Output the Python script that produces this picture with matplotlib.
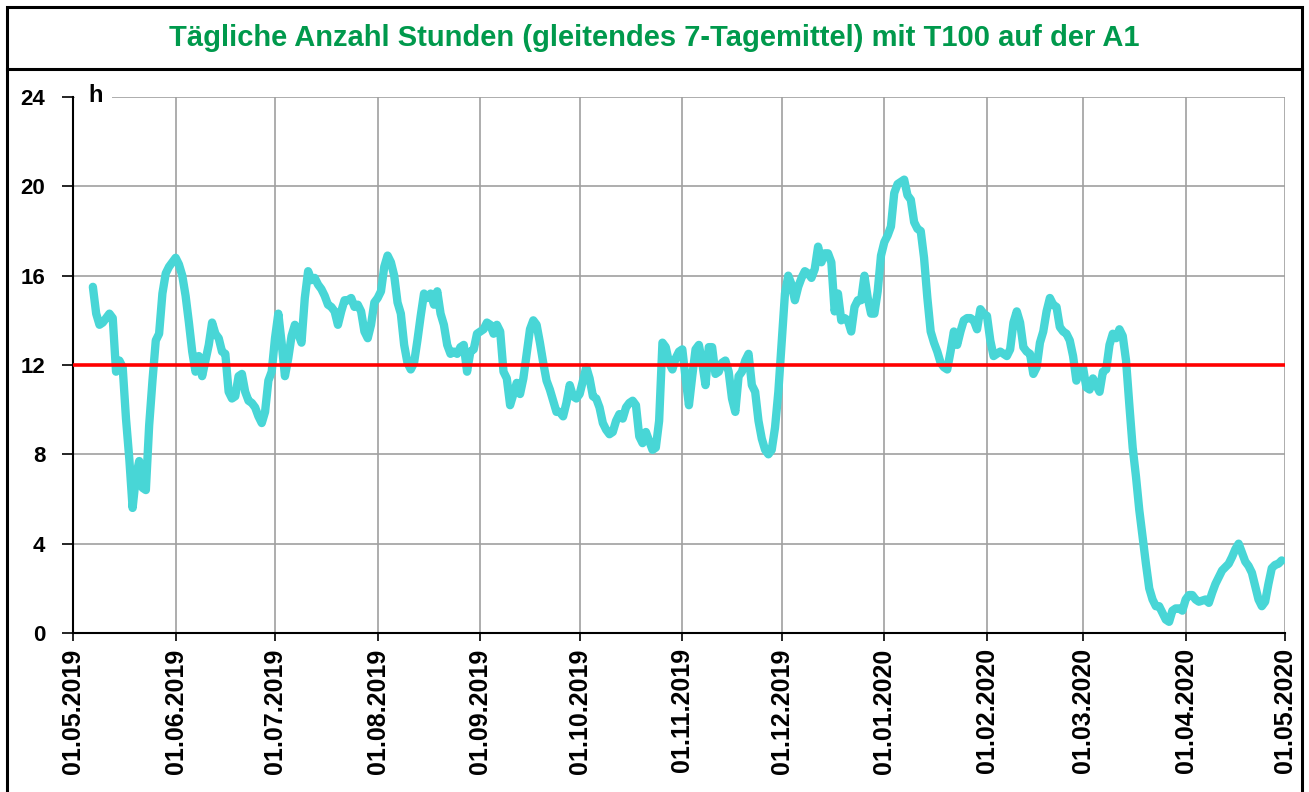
import matplotlib
matplotlib.use("Agg")
import matplotlib.pyplot as plt
import matplotlib.dates as mdates
import pandas as pd
from matplotlib.patches import Rectangle
from matplotlib.lines import Line2D

title = "Tägliche Anzahl Stunden (gleitendes 7-Tagemittel) mit T100 auf der A1"
first_day = "2019-05-07"
# gleitendes 7-Tagemittel, Stunden pro Tag, ab 07.05.2019
hours = [
    15.5, 14.3, 13.8, 13.9, 14.1, 14.3, 14.1, 11.7, 12.2, 11.9,
    9.6, 7.8, 5.6, 7.0, 7.7, 6.5, 6.4, 9.3, 11.3, 13.1,
    13.4, 15.2, 16.1, 16.4, 16.6, 16.8, 16.5, 16.0, 15.1, 13.9,
    12.6, 11.7, 12.4, 11.5, 12.2, 12.9, 13.9, 13.4, 13.2, 12.6,
    12.5, 10.8, 10.5, 10.6, 11.5, 11.6, 10.8, 10.4, 10.3, 10.1,
    9.7, 9.4, 9.9, 11.3, 11.7, 13.2, 14.3, 13.0, 11.5, 12.3,
    13.3, 13.8, 13.4, 13.0, 15.0, 16.2, 15.8, 15.9, 15.6, 15.4,
    15.1, 14.7, 14.6, 14.4, 13.8, 14.4, 14.9, 14.9, 15.0, 14.6,
    14.7, 14.4, 13.5, 13.2, 13.8, 14.8, 15.0, 15.3, 16.4, 16.9,
    16.6, 16.0, 14.8, 14.3, 12.9, 12.1, 11.8, 12.1, 13.1, 14.2,
    15.2, 15.0, 15.2, 14.7, 15.3, 14.3, 13.8, 12.9, 12.5, 12.6,
    12.5, 12.8, 12.9, 11.7, 12.6, 12.7, 13.4, 13.5, 13.6, 13.9,
    13.8, 13.4, 13.8, 13.5, 11.7, 11.4, 10.2, 10.7, 11.2, 10.7,
    11.4, 12.5, 13.6, 14.0, 13.8, 13.0, 12.1, 11.3, 10.9, 10.4,
    9.9, 9.9, 9.7, 10.3, 11.1, 10.6, 10.5, 10.7, 11.3, 11.9,
    11.4, 10.6, 10.5, 10.1, 9.4, 9.1, 8.9, 9.0, 9.5, 9.8,
    9.6, 10.1, 10.3, 10.4, 10.2, 8.8, 8.5, 9.0, 8.6, 8.2,
    8.3, 9.5, 13.0, 12.8, 12.1, 11.8, 12.3, 12.6, 12.7, 11.4,
    10.2, 11.5, 12.7, 12.9, 12.1, 11.1, 12.8, 12.8, 11.6, 11.7,
    12.1, 12.2, 11.7, 10.5, 9.9, 11.5, 11.7, 12.2, 12.5, 11.1,
    10.8, 9.5, 8.7, 8.2, 8.0, 8.2, 9.2, 10.8, 13.0, 15.2,
    16.0, 15.6, 14.9, 15.5, 15.9, 16.2, 16.1, 15.9, 16.3, 17.3,
    16.6, 17.0, 17.0, 16.6, 14.4, 15.2, 14.0, 14.1, 14.0, 13.5,
    14.6, 14.9, 14.9, 16.0, 15.0, 14.3, 14.3, 15.3, 16.9, 17.5,
    17.8, 18.2, 19.7, 20.1, 20.2, 20.3, 19.6, 19.4, 18.4, 18.1,
    18.0, 16.8, 15.0, 13.5, 13.0, 12.6, 12.1, 11.9, 11.8, 12.6,
    13.5, 12.9, 13.5, 14.0, 14.1, 14.1, 14.0, 13.6, 14.5, 14.3,
    14.2, 13.1, 12.4, 12.5, 12.6, 12.5, 12.4, 12.7, 13.9, 14.4,
    13.9, 12.8, 12.6, 12.5, 11.6, 11.9, 13.0, 13.5, 14.4, 15.0,
    14.7, 14.6, 13.7, 13.5, 13.4, 13.1, 12.4, 11.3, 11.8, 11.9,
    11.0, 10.9, 11.4, 11.1, 10.8, 11.7, 11.8, 12.9, 13.4, 13.2,
    13.6, 13.3, 12.2, 10.2, 8.3, 7.0, 5.5, 4.3, 3.1, 2.0,
    1.5, 1.2, 1.2, 0.9, 0.6, 0.5, 1.0, 1.1, 1.1, 1.0,
    1.5, 1.7, 1.7, 1.5, 1.4, 1.45, 1.5, 1.35, 1.8, 2.2,
    2.5, 2.8, 2.95, 3.1, 3.4, 3.75, 4.0, 3.6, 3.2, 3.0,
    2.7, 2.1, 1.5, 1.2, 1.4, 2.2, 2.9, 3.05, 3.1, 3.25,
]
limit = 12
x_start = "2019-05-01"
x_end = "2020-05-01"
y_ticks = [0, 4, 8, 12, 16, 20, 24]

plt.rcParams['font.family'] = ['Liberation Sans', 'DejaVu Sans']

fig = plt.figure(figsize=(13.09, 7.92), dpi=100)
W, H = 1309, 792
ax = fig.add_axes([73 / W, 1 - 633 / H, (1285 - 73) / W, (633 - 97) / H])

dates = pd.date_range(first_day, periods=len(hours), freq="D")
ax.plot(dates, hours, color='#48D6D6', lw=6,
        solid_joinstyle='round', solid_capstyle='round', zorder=3)
ax.axhline(limit, color='#ff0000', lw=2.6, zorder=4)

month_ticks = pd.date_range(x_start, x_end, freq="MS")
ax.set_xlim(pd.Timestamp(x_start), pd.Timestamp(x_end))
ax.set_ylim(0, 24)
ax.set_xticks(month_ticks)
ax.xaxis.set_major_formatter(mdates.DateFormatter('%d.%m.%Y'))
ax.set_yticks(y_ticks)
for lab in ax.get_xticklabels():
    lab.set_rotation(90)
    lab.set_fontweight('bold')
    lab.set_fontsize(18)
for lab in ax.get_yticklabels():
    lab.set_fontweight('bold')
    lab.set_fontsize(16)
ax.tick_params(axis='x', length=6, width=1.2, pad=5, color='black')
ax.tick_params(axis='y', length=8, width=1.2, pad=12, color='black')

ax.grid(color='#a0a0a0', lw=1.2, zorder=1)
ax.set_axisbelow(True)
for side in ['top', 'right']:
    ax.spines[side].set_visible(False)
for side in ['left', 'bottom']:
    ax.spines[side].set_color('black')
    ax.spines[side].set_linewidth(1.5)

# Einheit oben links, Gitterlinie ausgespart
ax.add_patch(Rectangle((0.0015, 0.985), 0.031, 0.03, transform=ax.transAxes,
                       facecolor='white', edgecolor='none', clip_on=False, zorder=2))
ax.text(0.019, 1.003, 'h', transform=ax.transAxes, ha='center', va='center',
        fontsize=17, fontweight='bold', zorder=5)

fig.text(0.5, 1 - 38 / H, title, ha='center', va='center',
         fontsize=21, fontweight='bold', color='#00994C')

# Rahmen um das Bild und Trennlinie unter dem Titel
fig.add_artist(Rectangle((7 / W, -0.05), (1302 - 7) / W, 1 - 7 / H + 0.05,
                         transform=fig.transFigure, fill=False,
                         edgecolor='black', lw=2.2))
fig.add_artist(Line2D([7 / W, 1302 / W], [1 - 69 / H, 1 - 69 / H],
                      transform=fig.transFigure, color='black', lw=2.2))

fig.savefig('out.png', dpi=100)
